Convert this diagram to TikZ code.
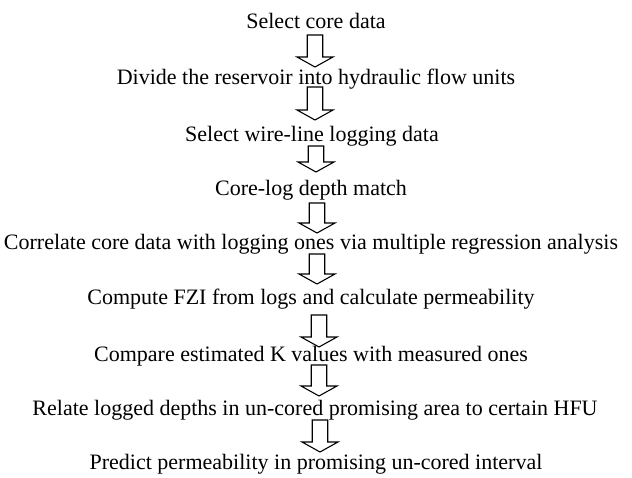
\documentclass[tikz,border=0pt]{standalone}
\usepackage{fontspec}
\setmainfont{Liberation Serif}
\usetikzlibrary{calc}
\tikzset{
  steptext/.style={anchor=base, inner sep=0pt, font=\fontsize{22}{26}\selectfont},
  blockarr/.style={draw=black, line width=1.1pt, line join=miter}
}
\newcommand{\hollowarrow}[2]{%
  \draw[blockarr] let \p1=(#1), \p2=(#2) in
    (\x1-7.75pt,\y1) -- (\x1-7.75pt,\y2+10pt) -- (\x1-18pt,\y2+10pt) -- (\x2,\y2)
    -- (\x1+18pt,\y2+10pt) -- (\x1+7.75pt,\y2+10pt) -- (\x1+7.75pt,\y1) -- cycle;}
\begin{document}
\begin{tikzpicture}[x=1pt, y=-1pt]
\useasboundingbox (0,0) rectangle (632,478);
\node[steptext] (t1) at (316,29) {Select core data};
\node[steptext] (t2) at (316,85) {Divide the reservoir into hydraulic flow units};
\node[steptext] (t3) at (312,142) {Select wire-line logging data};
\node[steptext] (t4) at (311,196) {Core-log depth match};
\node[steptext] (t5) at (311,250) {Correlate core data with logging ones via multiple regression analysis};
\node[steptext] (t6) at (311,305) {Compute FZI from logs and calculate permeability};
\node[steptext] (t7) at (311,361) {Compare estimated K values with measured ones};
\node[steptext] (t8) at (315,415) {Relate logged depths in un-cored promising area to certain HFU};
\node[steptext] (t9) at (316,469) {Predict permeability in promising un-cored interval};
\coordinate (a1s) at (315,35);  \coordinate (a1e) at (315,67);
\coordinate (a2s) at (315,87);  \coordinate (a2e) at (315,120);
\coordinate (a3s) at (316,146); \coordinate (a3e) at (316,172);
\coordinate (a4s) at (317,203); \coordinate (a4e) at (317,233);
\coordinate (a5s) at (317,254); \coordinate (a5e) at (317,284);
\coordinate (a6s) at (319,315); \coordinate (a6e) at (319,347);
\coordinate (a7s) at (319,365); \coordinate (a7e) at (319,396);
\coordinate (a8s) at (320,420); \coordinate (a8e) at (320,452);
\hollowarrow{a1s}{a1e}
\hollowarrow{a2s}{a2e}
\hollowarrow{a3s}{a3e}
\hollowarrow{a4s}{a4e}
\hollowarrow{a5s}{a5e}
\hollowarrow{a6s}{a6e}
\hollowarrow{a7s}{a7e}
\hollowarrow{a8s}{a8e}
\end{tikzpicture}
\end{document}
